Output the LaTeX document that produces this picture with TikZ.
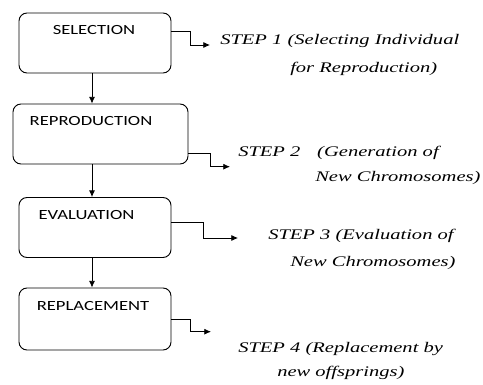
\documentclass[tikz,border=0pt]{standalone}
\usepackage{fontspec}
\usetikzlibrary{arrows.meta}
\newfontfamily\boxfont[FakeStretch=1.33]{Carlito}
\newfontfamily\stepfont{Liberation Serif}
\newcommand\wide[1]{\scalebox{1.4}[1]{#1}}
\begin{document}
\begin{tikzpicture}[x=0.75pt,y=-0.75pt,>={Latex[length=5pt,width=4.5pt]},
  stagebox/.style={draw,rounded corners=6pt,line width=0.7pt,
    minimum width=114pt,minimum height=45pt},
  stagename/.style={anchor=base,font=\boxfont\fontsize{10.5}{12}\selectfont},
  steptext/.style={anchor=base west,inner sep=0pt,
    font=\stepfont\itshape\fontsize{11}{13}\selectfont}]
\useasboundingbox (0,0) rectangle (483,385);

% the four stages
\node[stagebox] (sel) at (95,43) {};
\node[stagename] at (94,35) {SELECTION};
\node[stagebox,minimum width=131.25pt] (rep) at (100.5,134) {};
\node[stagename] at (91,125.7) {REPRODUCTION};
\node[stagebox] (eval) at (95,227.5) {};
\node[stagename] at (86.5,219.3) {EVALUATION};
\node[stagebox,minimum height=46.5pt] (repl) at (95,319) {};
\node[stagename] at (93,310.7) {REPLACEMENT};

\coordinate (spine) at (92,0);
\draw[->,line width=0.6pt] (sel.south -| spine) to (rep.north -| spine);
\draw[->,line width=0.6pt] (rep.south -| spine) to (eval.north -| spine);
\draw[->,line width=0.6pt] (eval.south -| spine) to (repl.north -| spine);

% step descriptions
\node[steptext] (st1) at (220,45) {\wide{STEP 1 (Selecting Individual}};
\node[steptext] (st1b) at (290,73) {\wide{for Reproduction)}};
\node[steptext] (st2) at (238,156.7) {\wide{STEP 2\hspace{9pt}(Generation of}};
\node[steptext] (st2b) at (315,181.7) {\wide{New Chromosomes)}};
\node[steptext] (st3) at (268,240) {\wide{STEP 3 (Evaluation of}};
\node[steptext] (st3b) at (290,266.7) {\wide{New Chromosomes)}};
\node[steptext] (st4) at (238,353) {\wide{STEP 4 (Replacement by}};
\node[steptext] (st4b) at (277,376.7) {\wide{new offsprings)}};

% elbow connectors to the steps
\coordinate (bend1) at (190,31);   \coordinate (tip1) at (210,45);
\coordinate (bend2) at (210,153.3);\coordinate (tip2) at (230,166.7);
\coordinate (bend3) at (203.3,222.3);\coordinate (tip3) at (238,238);
\coordinate (bend4) at (190,319.3);\coordinate (tip4) at (211,331.7);
\draw[->,line width=0.6pt] (sel.east |- bend1) -- (bend1) |- (tip1);
\draw[->,line width=0.6pt] (rep.east |- bend2) -- (bend2) |- (tip2);
\draw[->,line width=0.6pt] (eval.east |- bend3) -- (bend3) |- (tip3);
\draw[->,line width=0.6pt] (repl.east |- bend4) -- (bend4) |- (tip4);
\end{tikzpicture}
\end{document}
